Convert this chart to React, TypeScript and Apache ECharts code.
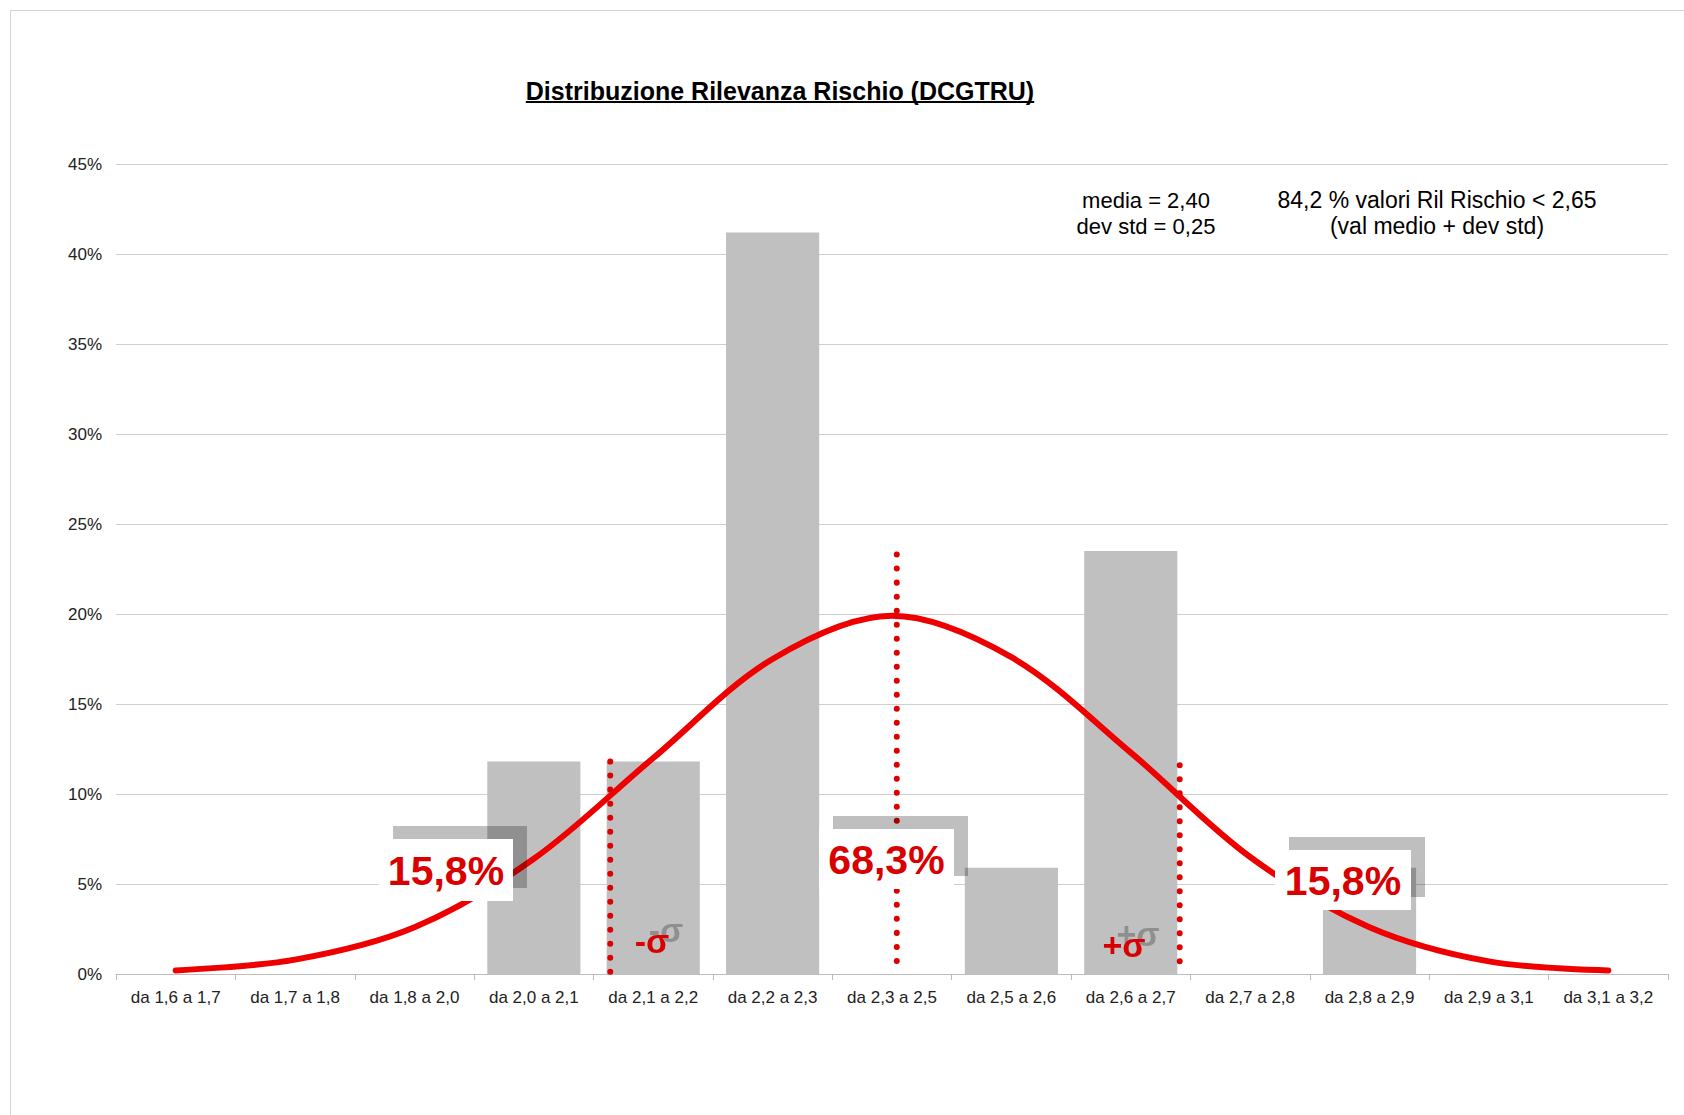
import React, { useEffect, useRef } from "react";
import * as echarts from "echarts";

const categories = [
  "da 1,6 a 1,7",
  "da 1,7 a 1,8",
  "da 1,8 a 2,0",
  "da 2,0 a 2,1",
  "da 2,1 a 2,2",
  "da 2,2 a 2,3",
  "da 2,3 a 2,5",
  "da 2,5 a 2,6",
  "da 2,6 a 2,7",
  "da 2,7 a 2,8",
  "da 2,8 a 2,9",
  "da 2,9 a 3,1",
  "da 3,1 a 3,2",
];
// percentage of items per class (bars)
const frequencies = [0, 0, 0, 11.8, 11.8, 41.2, 0, 5.9, 23.5, 0, 5.9, 0, 0];
// red bell curve, read at each class centre
const normalCurve = [0.2, 0.8, 2.6, 6.4, 12.0, 17.5, 19.9, 17.6, 12.3, 6.5, 2.6, 0.7, 0.2];
// y axis
const yMin = 0;
const yMax = 45;
const yStep = 5;
// dotted markers: position in class units (0 = left edge of first class) and height in %
const markerPositions = [4.14, 6.54, 8.91];
const markerTops = [11.8, 23.3, 11.6];

const titleText = "Distribuzione Rilevanza Rischio (DCGTRU)";
const statsLeft = ["media = 2,40", "dev std = 0,25"];
const statsRight = ["84,2 % valori Ril Rischio < 2,65", "(val medio + dev std)"];
const boxLabels = ["15,8%", "68,3%", "15,8%"];
const sigmaLabels = ["-σ", "+σ"];

const FONT = "Arial, 'Liberation Sans', sans-serif";
const RED_LINE = "#ee0000";
const RED_TEXT = "#d80000";

function measure(text: string, font: string): number {
  const c = document.createElement("canvas").getContext("2d");
  if (!c) return text.length * 12;
  c.font = font;
  return c.measureText(text).width;
}

export default function App() {
  const ref = useRef<HTMLDivElement>(null);

  useEffect(() => {
    if (!ref.current) return;
    const chart = echarts.init(ref.current, null, { renderer: "svg" });

    const titleFontSize = 25;
    const titleW = measure(titleText, `bold ${titleFontSize}px Arial, 'Liberation Sans', sans-serif`);
    const titleCx = 780;
    const titleBottom = 103;

    const boxes = [
      { x: 379, y: 839, w: 134, h: 62 },
      { x: 819, y: 829, w: 135, h: 60 },
      { x: 1275, y: 850, w: 136, h: 60 },
    ];
    const sigmaPos = [
      { x: 652, y: 941 },
      { x: 1124, y: 945 },
    ];

    const graphics: any[] = [
      {
        type: "rect",
        silent: true,
        z: 0,
        shape: { x: 10.5, y: 10.5, width: 1800, height: 1300 },
        style: { fill: "none", stroke: "#d4d4d4", lineWidth: 1 },
      },
      {
        type: "text",
        z: 100,
        style: {
          text: titleText,
          x: titleCx,
          y: titleBottom,
          align: "center",
          textAlign: "center",
          verticalAlign: "bottom",
          textVerticalAlign: "bottom",
          fontSize: titleFontSize,
          fontWeight: "bold",
          fontFamily: FONT,
          fill: "#000",
        },
      },
      {
        type: "rect",
        z: 100,
        shape: { x: titleCx - titleW / 2, y: titleBottom - 2, width: titleW, height: 2 },
        style: { fill: "#000" },
      },
    ];

    statsLeft.forEach((t, i) => {
      graphics.push({
        type: "text",
        z: 100,
        style: {
          text: t,
          x: 1146,
          y: 200 + i * 26,
          align: "center",
          textAlign: "center",
          verticalAlign: "middle",
          textVerticalAlign: "middle",
          fontSize: 22,
          fontFamily: FONT,
          fill: "#000",
        },
      });
    });
    statsRight.forEach((t, i) => {
      graphics.push({
        type: "text",
        z: 100,
        style: {
          text: t,
          x: 1437,
          y: 200 + i * 26,
          align: "center",
          textAlign: "center",
          verticalAlign: "middle",
          textVerticalAlign: "middle",
          fontSize: 23,
          fontFamily: FONT,
          fill: "#000",
        },
      });
    });

    boxLabels.forEach((t, i) => {
      const b = boxes[i];
      graphics.push({
        type: "rect",
        z: 100,
        shape: { x: b.x + 14, y: b.y - 13, width: b.w, height: b.h },
        style: { fill: "rgba(0,0,0,0.25)" },
      });
      graphics.push({
        type: "rect",
        z: 101,
        shape: { x: b.x, y: b.y, width: b.w, height: b.h },
        style: { fill: "#ffffff" },
      });
      graphics.push({
        type: "text",
        z: 102,
        style: {
          text: t,
          x: b.x + b.w / 2,
          y: b.y + b.h / 2 + 1,
          align: "center",
          textAlign: "center",
          verticalAlign: "middle",
          textVerticalAlign: "middle",
          fontSize: 41,
          fontWeight: "bold",
          fontFamily: FONT,
          fill: RED_TEXT,
        },
      });
    });

    sigmaLabels.forEach((t, i) => {
      const p = sigmaPos[i];
      graphics.push({
        type: "text",
        z: 101,
        style: {
          text: t,
          x: p.x,
          y: p.y,
          align: "center",
          textAlign: "center",
          verticalAlign: "middle",
          textVerticalAlign: "middle",
          fontSize: 34,
          fontWeight: "bold",
          fontFamily: FONT,
          fill: RED_TEXT,
          textShadowColor: "rgba(110,110,110,0.6)",
          textShadowBlur: 0.5,
          textShadowOffsetX: 14,
          textShadowOffsetY: -11,
        },
      });
    });

    const markerSeries = markerPositions.map((x, i) => ({
      type: "line",
      xAxisIndex: 1,
      yAxisIndex: 0,
      symbol: "none",
      silent: true,
      z: 4,
      data: [
        [x, markerTops[i]],
        [x, 0],
      ],
      lineStyle: { color: "#dd0000", width: 6, type: [0.01, 14], cap: "round" },
    }));

    chart.setOption({
      animation: false,
      backgroundColor: "#ffffff",
      grid: { left: 116, right: 16, top: 164, bottom: 141, containLabel: false },
      xAxis: [
        {
          type: "category",
          data: categories,
          boundaryGap: true,
          axisLine: { show: true, lineStyle: { color: "#bdbdbd", width: 1 } },
          axisTick: { show: true, length: 6, interval: 0, lineStyle: { color: "#bdbdbd" } },
          axisLabel: {
            interval: 0,
            margin: 15,
            color: "#222",
            fontSize: 17,
            fontFamily: FONT,
          },
          splitLine: { show: false },
        },
        {
          type: "value",
          min: 0,
          max: categories.length,
          show: false,
        },
      ],
      yAxis: {
        type: "value",
        min: yMin,
        max: yMax,
        interval: yStep,
        axisLine: { show: false },
        axisTick: { show: false },
        axisLabel: {
          formatter: "{value}%",
          margin: 14,
          color: "#222",
          fontSize: 17,
          fontFamily: FONT,
        },
        splitLine: { show: true, lineStyle: { color: "#cfcfcf", width: 1 } },
      },
      series: [
        {
          type: "bar",
          data: frequencies,
          barCategoryGap: "22%",
          itemStyle: { color: "#c0c0c0" },
          z: 2,
        },
        {
          type: "line",
          data: normalCurve,
          smooth: 0.33,
          symbol: "none",
          z: 5,
          lineStyle: { color: RED_LINE, width: 6, cap: "round" },
        },
        ...markerSeries,
      ],
      graphic: { elements: graphics },
    });

    return () => chart.dispose();
  }, []);

  return (
    <div
      ref={ref}
      style={{ position: "absolute", left: 0, top: 0, width: 1684, height: 1115, background: "#fff" }}
    />
  );
}
